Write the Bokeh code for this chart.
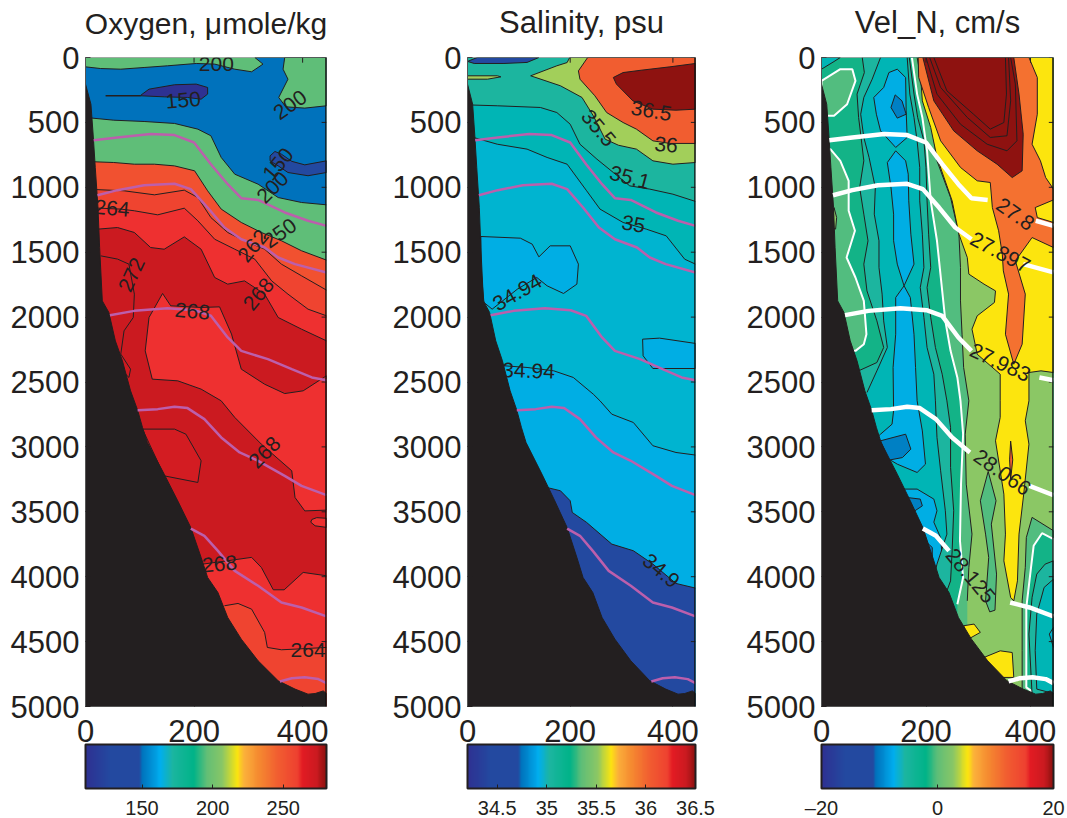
from bokeh.plotting import figure
from bokeh.layouts import row
from bokeh.models import Range1d, FixedTicker, ColorBar, LinearColorMapper, Span, Title
from bokeh.core.properties import value
from bokeh.embed import file_html
from bokeh.resources import INLINE
import numpy as np

FONT = "Liberation Sans"
INK = "#231F20"
XMAX, DMAX = 444, 5000

# ---- section geometry (km, m)
topo_x = [0, 10, 14, 18, 23, 26, 31, 43, 55, 68, 83, 96, 105, 114, 145, 170, 194, 213, 225, 244, 262, 287, 318, 355, 386, 410, 423, 438, 444]
topo_d = [205, 360, 590, 847, 1155, 1464, 1875, 1964, 2183, 2337, 2568, 2717, 2850, 2966, 3210, 3416, 3621, 3852, 4006, 4122, 4314, 4481, 4648, 4802, 4866, 4905, 4900, 4880, 4900]

# ---- isopycnals
iso1_x = [15, 59, 120, 164, 200, 231, 262, 287, 318, 367, 410, 444]
iso1_d = [637, 616, 590, 598, 655, 822, 976, 1084, 1097, 1194, 1258, 1297]
iso2_x = [22, 59, 108, 164, 194, 225, 256, 287, 330, 355, 386, 444]
iso2_d = [1061, 1022, 984, 973, 1014, 1156, 1310, 1400, 1464, 1541, 1592, 1656]
iso3_x = [45, 90, 151, 201, 231, 262, 287, 336, 380, 417, 444]
iso3_d = [1985, 1952, 1931, 1947, 1990, 2157, 2260, 2324, 2401, 2465, 2486]
iso4_x = [96, 133, 164, 188, 219, 250, 284, 318, 367, 398, 444]
iso4_d = [2717, 2709, 2691, 2701, 2786, 2927, 3043, 3107, 3223, 3300, 3372]
iso5_x = [194, 219, 244, 275, 318, 361, 398, 444]
iso5_d = [3629, 3685, 3801, 3955, 4070, 4199, 4237, 4306]
iso6_x = [358, 380, 404, 429, 444]
iso6_d = [4807, 4782, 4774, 4789, 4820]

# ---- oxygen contours
oxy_b1_x = [0, 28, 65, 108, 151, 204, 238, 275, 306, 327, 312, 444]
oxy_b1_d = [72, 85, 90, 77, 64, 46, 51, 90, 110, 51, 0, 0]
oxy_gr_x = [367, 364, 373, 356, 369, 404, 444, 444]
oxy_gr_d = [0, 90, 167, 308, 380, 390, 372, 0]
oxy_db1_x = [102, 117, 164, 204, 225, 225, 213, 188, 145, 102]
oxy_db1_d = [290, 244, 210, 205, 231, 282, 321, 308, 303, 295]
oxy_tail_x = [37, 102]
oxy_tail_d = [295, 295]
oxy_db2_x = [340, 349, 361, 380, 404, 444, 444, 410, 373, 355, 340]
oxy_db2_d = [758, 724, 745, 800, 827, 796, 886, 911, 886, 835, 796]
oxy_g1_x = [0, 52, 108, 164, 207, 231, 250, 275, 318, 355, 398, 444]
oxy_g1_d = [462, 483, 493, 508, 552, 603, 770, 899, 976, 1079, 1117, 1135]
oxy_o1_x = [0, 52, 90, 127, 164, 201, 225, 250, 287, 324, 361, 398, 444]
oxy_o1_d = [801, 809, 822, 822, 835, 873, 1027, 1168, 1271, 1348, 1412, 1489, 1561]
oxy_o2_x = [0, 71, 127, 182, 207, 231, 262, 287, 330, 361, 398, 444]
oxy_o2_d = [1014, 1027, 1058, 1022, 1079, 1233, 1348, 1400, 1477, 1592, 1682, 1792]
oxy_o3_x = [0, 65, 90, 133, 182, 207, 238, 275, 312, 343, 373, 410, 444]
oxy_o3_d = [1156, 1168, 1181, 1212, 1161, 1258, 1400, 1477, 1554, 1721, 1823, 1939, 1990]
oxy_r1_x = [0, 59, 90, 120, 145, 182, 213, 238, 262, 293, 330, 355, 398, 444]
oxy_r1_d = [1330, 1310, 1348, 1464, 1477, 1382, 1477, 1695, 1746, 1721, 1823, 2003, 2093, 2183]
oxy_272_x = [28, 59, 80, 90, 88, 71, 65, 83, 80, 74]
oxy_272_d = [1528, 1553, 1592, 1823, 2003, 2106, 2285, 2401, 2465, 2440]
oxy_p1_x = [142, 157, 213, 247, 269, 287, 330, 367, 401, 444, 444, 404, 386, 380, 324, 275, 250, 213, 170, 123, 110, 117]
oxy_p1_d = [1818, 1913, 1926, 1921, 2131, 2401, 2517, 2589, 2568, 2452, 3487, 3493, 3390, 3184, 2979, 2773, 2645, 2555, 2491, 2478, 2260, 2003]
oxy_p2_x = [105, 164, 185, 213, 207, 145]
oxy_p2_d = [2863, 2863, 2902, 3107, 3274, 3223]
oxy_p3_x = [417, 426, 444, 444, 423, 415]
oxy_p3_d = [3559, 3545, 3550, 3620, 3608, 3580]
oxy_r2_x = [216, 262, 306, 324, 346, 366, 401, 444]
oxy_r2_d = [3903, 3877, 3851, 3929, 4101, 4101, 3967, 3993]
oxy_r3_x = [256, 281, 306, 330, 335, 361, 386, 444]
oxy_r3_d = [4224, 4206, 4250, 4429, 4545, 4563, 4558, 4545]
oxy_lab = ["200", "150", "200", "150", "200", "250", "264", "262", "272", "268", "268", "268", "268", "264"]
oxy_lab_x = [241, 180, 377, 355, 345, 358, 49, 309, 85, 197, 319, 330, 247, 410]
oxy_lab_d = [47, 329, 365, 822, 1001, 1353, 1161, 1451, 1674, 1956, 1823, 3043, 3903, 4566]
oxy_lab_a = [0, 5, 35, 50, 45, 35, -5, 50, 65, -5, 50, 45, 5, 0]

# ---- salinity contours
sal_blue_x = [0, 19, 139, 116, 71, 13]
sal_blue_d = [30, 0, 0, 38, 46, 46]
sal_sl_x = [0, 58, 65, 39, 0]
sal_sl_d = [141, 141, 149, 167, 167]
sal_yg_x = [199, 194, 174, 123, 181, 223, 245, 268, 294, 329, 361, 400, 444, 444]
sal_yg_d = [0, 39, 64, 141, 218, 308, 449, 629, 676, 706, 796, 822, 809, 0]
sal_or_x = [234, 216, 219, 248, 271, 303, 329, 361, 394, 444, 444]
sal_or_d = [0, 103, 167, 295, 424, 501, 552, 642, 662, 662, 0]
sal_dr_x = [303, 338, 394, 444, 444, 406, 361, 322, 290, 284]
sal_dr_d = [116, 98, 72, 46, 398, 406, 398, 334, 205, 154]
sal_t1_x = [0, 58, 142, 174, 200, 219, 252, 284, 316, 355, 400, 444]
sal_t1_d = [365, 372, 385, 424, 514, 668, 783, 886, 989, 1014, 1053, 1109]
sal_t2_x = [0, 58, 116, 155, 194, 232, 258, 303, 348, 387, 423, 444]
sal_t2_d = [603, 668, 706, 770, 822, 1027, 1168, 1271, 1322, 1374, 1554, 1592]
sal_c_x = [0, 71, 116, 168, 206, 245, 258, 281, 323, 361, 406, 444]
sal_c_d = [2375, 2375, 2388, 2414, 2465, 2594, 2645, 2748, 2812, 2991, 3043, 3063]
sal_p1_x = [26, 103, 126, 139, 161, 200, 216, 213, 187, 155, 135, 97, 48, 32, 26]
sal_p1_d = [1379, 1392, 1438, 1536, 1451, 1451, 1592, 1746, 1818, 1759, 1695, 1785, 1939, 1887, 1625]
sal_p2_x = [341, 374, 444, 444, 361, 342]
sal_p2_d = [2170, 2162, 2203, 2396, 2396, 2298]
sal_db_x = [0, 155, 181, 200, 204, 232, 281, 323, 361, 406, 444]
sal_db_d = [3300, 3313, 3338, 3415, 3505, 3582, 3749, 3800, 3903, 4052, 4088]
sal_lab = ["36.5", "36", "35.5", "35.1", "35", "34.94", "34.94", "34.9"]
sal_lab_x = [358, 387, 255, 316, 323, 97, 119, 377]
sal_lab_d = [411, 673, 544, 925, 1284, 1811, 2414, 3955]
sal_lab_a = [-10, -5, -50, -15, -10, 30, -2, -40]

# ---- velocity contours
vel_cor_x = [0, 36, 24, 0]
vel_cor_d = [0, 0, 31, 90]
vel_b1_x = [0, 36, 59, 65, 49, 24, 11, 0]
vel_b1_d = [180, 90, 90, 180, 360, 449, 449, 449]
vel_b2_x = [0, 17, 36, 52, 52, 64, 48, 65, 81, 86, 81, 65, 0]
vel_b2_d = [706, 706, 796, 950, 1181, 1335, 1541, 1695, 1875, 2132, 2209, 2260, 2260]
vel_blob_x = [24, 29, 27, 20]
vel_blob_d = [1156, 1233, 1322, 1310]
vel_v1_x = [78, 82, 68, 71, 75, 81, 73, 81, 89, 81, 87, 106, 119, 106, 71]
vel_v1_d = [0, 116, 282, 462, 591, 796, 1002, 1207, 1412, 1592, 1798, 2029, 2234, 2350, 2414]
vel_v2_x = [113, 97, 81, 75, 81, 91, 103, 101, 110, 110, 116, 119, 126, 106, 87]
vel_v2_d = [0, 167, 308, 437, 616, 770, 1002, 1207, 1412, 1618, 1823, 2029, 2234, 2414, 2581]
vel_c1_x = [145, 129, 119, 100, 105, 113, 142, 164, 162, 161]
vel_c1_d = [90, 116, 231, 308, 437, 565, 693, 616, 411, 154]
vel_c2_x = [142, 126, 133, 138, 138, 145, 158, 177, 171, 167, 166, 161]
vel_c2_d = [719, 809, 1002, 1207, 1412, 1592, 1759, 1592, 1361, 1104, 899, 796]
vel_c3_x = [158, 142, 142, 137, 138, 135, 113, 100, 129, 145, 183, 199, 193, 183, 180, 177, 170]
vel_c3_d = [1759, 1849, 2132, 2388, 2722, 2825, 2902, 2950, 3094, 3133, 3197, 3133, 2877, 2645, 2388, 2132, 1849]
vel_c4_x = [156, 183, 215, 221, 215, 228, 231, 215, 190, 156]
vel_c4_d = [3325, 3325, 3402, 3492, 3580, 3700, 3852, 3950, 3950, 3700]
vel_bb1_x = [141, 154, 162, 145, 133]
vel_bb1_d = [288, 334, 437, 467, 385]
vel_bb2_x = [113, 161, 171, 155, 129]
vel_bb2_d = [2953, 2902, 3017, 3082, 3102]
vel_bb3_x = [164, 189, 193, 174]
vel_bb3_d = [3390, 3402, 3454, 3505]
vel_bb4_x = [202, 212, 212, 202]
vel_bb4_d = [3738, 3775, 3852, 3852]
vel_w1_x = [164, 169, 177, 183, 188, 188, 193, 196, 189, 196, 202, 215, 218, 221, 228, 237, 240, 221, 215]
vel_w1_d = [0, 282, 462, 642, 847, 1104, 1361, 1618, 1772, 2003, 2234, 2440, 2645, 2927, 3184, 3492, 3672, 3903, 4006]
vel_w2_x = [168, 177, 184, 196, 200, 202, 205, 209, 202, 209, 218, 231, 240, 247, 247, 253, 250, 247, 240]
vel_w2_d = [0, 282, 462, 642, 847, 1104, 1361, 1618, 1772, 2003, 2234, 2440, 2645, 2851, 3159, 3492, 3801, 4032, 4109]
vel_w3_x = [173, 183, 193, 202, 209, 221, 231, 237, 247, 260, 266, 271, 267, 265, 271, 260]
vel_w3_d = [0, 282, 462, 719, 1104, 1412, 1798, 2029, 2260, 2465, 2645, 2902, 3287, 3723, 4006, 4212]
vel_w4_x = [183, 196, 209, 221, 247, 263, 266, 266, 269, 272, 282, 275, 277, 288, 282, 279]
vel_w4_d = [0, 282, 462, 796, 1079, 1361, 1618, 1875, 2132, 2388, 2645, 2902, 3287, 3672, 3929, 4186]
vel_lens_x = [319, 334, 325, 335, 332, 322, 314, 320, 314, 304]
vel_lens_d = [3189, 3415, 3595, 3980, 4258, 4271, 4186, 3852, 3672, 3415]
vel_yel_x = [187, 193, 209, 221, 250, 263, 279, 282, 311, 333, 331, 298, 288, 298, 342, 342, 342, 333, 349, 352, 349, 362, 368, 375, 378, 387, 397, 390, 397, 397, 420, 444, 444]
vel_yel_d = [0, 334, 539, 770, 1104, 1361, 1541, 1669, 1746, 1798, 1887, 1990, 2093, 2286, 2440, 2645, 2773, 2953, 3364, 3672, 3878, 4160, 4186, 4032, 3672, 3364, 2979, 2799, 2645, 2427, 2414, 2427, 0]
vel_or_x = [185, 186, 205, 228, 266, 298, 323, 327, 339, 346, 348, 358, 352, 368, 384, 390, 371, 403, 444, 444, 413, 409, 444, 444, 429, 419, 403, 413, 413, 397]
vel_or_d = [0, 154, 385, 642, 847, 950, 963, 1156, 1335, 1515, 1644, 1823, 2132, 2363, 2209, 1823, 1567, 1387, 1464, 1271, 1233, 1156, 1097, 1014, 925, 796, 668, 437, 154, 0]
vel_dr_x = [194, 215, 253, 298, 336, 365, 384, 386, 378, 368]
vel_dr_d = [0, 334, 565, 719, 822, 925, 873, 591, 282, 0]
vel_in1_x = [200, 221, 266, 317, 355, 374, 371, 362]
vel_in1_d = [0, 282, 514, 668, 719, 642, 205, 0]
vel_in2_x = [207, 228, 279, 323, 355, 362, 358]
vel_in2_d = [0, 231, 462, 616, 603, 334, 0]
vel_in3_x = [215, 240, 291, 323, 349, 354, 352]
vel_in3_d = [0, 257, 437, 552, 501, 282, 0]
vel_ra_x = [403, 444, 444, 384, 384, 384, 390, 392]
vel_ra_d = [3543, 3646, 5000, 4905, 4570, 4186, 3929, 3698]
vel_rb_x = [422, 444, 444, 392, 392, 401, 406]
vel_rb_d = [3665, 3711, 5000, 4853, 4237, 3929, 3762]
vel_rc_x = [444, 428, 412, 403, 397, 403, 444]
vel_rc_d = [3878, 3903, 3980, 4160, 4442, 4905, 5000]
vel_rd_x = [444, 426, 412, 409, 412, 444]
vel_rd_d = [4019, 4083, 4288, 4570, 4866, 4900]
vel_re_x = [444, 436, 444]
vel_re_d = [4391, 4442, 4545]
vel_y2_x = [272, 292, 304, 281]
vel_y2_d = [4378, 4365, 4429, 4481]
vel_y3_x = [311, 342, 365, 368, 342, 326]
vel_y3_d = [4622, 4571, 4584, 4776, 4776, 4725]
vel_sl_x = [362, 366, 362, 360]
vel_sl_d = [2955, 3100, 3250, 3100]
vel_lab = ["27.8", "27.897", "27.983", "28.066", "28.125"]
vel_lab_x = [371, 342, 342, 346, 285]
vel_lab_d = [1207, 1502, 2350, 3197, 3993]
vel_lab_a = [-35, -28, -25, -35, -50]
vel_gaps = [(325, 405), (290, 380), (290, 410), (290, 395), (250, 350), (340, 350)]

# ---- colour scale and axes text
cb_fracs = [0, .1, .22, .235, .31, .36, .45, .5, .57, .63, .66, .72, .8, .88, .9, .96, 1]
cb_cols = ["#2E3192", "#2349A0", "#2349A0", "#0072BC", "#00AEEF", "#1CB5A0", "#00B388", "#5FBE78", "#8BC765",
           "#FCE50E", "#FBB03B", "#F58A30", "#F15D30", "#EE4130", "#E31B23", "#CB1A20", "#8E1210"]
titles = ["Oxygen, μmole/kg", "Salinity, psu", "Vel_N, cm/s"]
depth_ticks = [0, 500, 1000, 1500, 2000, 2500, 3000, 3500, 4000, 4500, 5000]
dist_ticks = [0, 200, 400]
oxy_cb = (110, 280.6, {150: "150", 200: "200", 250: "250"})
sal_cb = (34.2, 36.5, {34.5: "34.5", 35: "35", 35.5: "35.5", 36: "36", 36.5: "36.5"})
vel_cb = (-20, 20, {-20: "–20", 0: "0", 20: "20"})


def make_palette():
    rgb = np.array([[int(c[i:i + 2], 16) for i in (1, 3, 5)] for c in cb_cols], float)
    t = np.linspace(0, 1, 256)
    out = np.column_stack([np.interp(t, cb_fracs, rgb[:, k]) for k in range(3)]).round().astype(int)
    return ["#%02X%02X%02X" % tuple(v) for v in out]


PAL = make_palette()


def panel(title, fw, left, right, cb, title_size, cb_standoff):
    fh = 649
    p = figure(width=left + fw + right, height=833, frame_width=fw, frame_height=fh,
               x_range=Range1d(0, XMAX), y_range=Range1d(DMAX, 0),
               output_backend="svg", toolbar_location=None,
               min_border_left=left, min_border_right=right, min_border_top=72, min_border_bottom=112)
    p.title = Title(text=title, text_font=FONT, text_font_size=title_size, text_font_style="normal",
                    text_color=INK, align="center", standoff=35, text_line_height=0.8)
    p.grid.visible = False
    p.outline_line_color = None
    p.background_fill_color = "white"
    for ax, ticks in ((p.xaxis[0], dist_ticks), (p.yaxis[0], depth_ticks)):
        ax.ticker = FixedTicker(ticks=ticks)
        ax.major_tick_in = 5
        ax.major_tick_out = 0
        ax.minor_tick_line_color = None
        ax.major_tick_line_color = INK
        ax.axis_line_color = "#555555"
        ax.major_label_text_font = FONT
        ax.major_label_text_font_size = "31px"
        ax.major_label_text_color = INK
    p.xaxis[0].major_label_standoff = 13
    p.yaxis[0].major_label_standoff = 6
    mapper = LinearColorMapper(palette=PAL, low=cb[0], high=cb[1])
    bar = ColorBar(color_mapper=mapper, ticker=FixedTicker(ticks=list(cb[2].keys())),
                   major_label_overrides=cb[2], orientation="horizontal", width=fw, height=44,
                   padding=0, margin=0, location=(0, 0), label_standoff=cb_standoff,
                   major_label_text_font=FONT, major_label_text_font_size="20px",
                   major_label_text_color=INK, major_tick_line_color=INK, major_tick_in=4,
                   bar_line_color=INK, bar_line_width=2, border_line_color=None, background_fill_alpha=0)
    p.add_layout(bar, "below")
    return p


def closed(p, x, d, color, line=INK, lw=1):
    p.patch(x, d, fill_color=color, line_color=line, line_width=lw)


def below(p, x, d, color, line=INK, lw=1):
    p.patch(list(x) + [XMAX, 0], list(d) + [DMAX, DMAX], fill_color=color, line_color=None)
    p.line(x, d, line_color=line, line_width=lw)


def right_of(p, x, d, color, line=INK, lw=1):
    p.patch(list(x) + [x[-1], XMAX, XMAX], list(d) + [DMAX, DMAX, 0], fill_color=color, line_color=None)
    p.line(x, d, line_color=line, line_width=lw)


def finish(p):
    p.patch(topo_x + [XMAX, 0], topo_d + [DMAX, DMAX], fill_color=INK, line_color=INK, line_width=1)
    # inward tick marks of the right and top sides of the box
    p.segment(x0=[XMAX - 9] * len(depth_ticks), y0=depth_ticks, x1=[XMAX] * len(depth_ticks), y1=depth_ticks,
              line_color=INK, line_width=1)
    p.segment(x0=dist_ticks, y0=[0] * 3, x1=dist_ticks, y1=[40] * 3, line_color=INK, line_width=1)
    p.add_layout(Span(location=XMAX, dimension="height", line_color="#111111", line_width=2.5))
    p.add_layout(Span(location=0, dimension="width", line_color="#666666", line_width=1))


def labels(p, lab, lx, ld, la):
    p.text(lx, ld, text=lab, angle=[np.deg2rad(a) for a in la], text_font=value(FONT), text_font_size="21px",
           text_color=INK, text_align="center", text_baseline="middle")


ISOS = [(iso1_x, iso1_d), (iso2_x, iso2_d), (iso3_x, iso3_d), (iso4_x, iso4_d), (iso5_x, iso5_d), (iso6_x, iso6_d)]
MAG = "#BC5FAC"

# Oxygen
p1 = panel(titles[0], 241, 85, 54, oxy_cb, "30px", 12)
closed(p1, [0, XMAX, XMAX, 0], [0, 0, DMAX, DMAX], "#5FBE78", None)
below(p1, oxy_b1_x, oxy_b1_d, "#0072BC")
closed(p1, oxy_db1_x, oxy_db1_d, "#2E3192")
p1.line(oxy_tail_x, oxy_tail_d, line_color=INK, line_width=1.5)
closed(p1, oxy_db2_x, oxy_db2_d, "#2349A0")
closed(p1, oxy_gr_x, oxy_gr_d, "#5FBE78")
below(p1, oxy_g1_x, oxy_g1_d, "#5FBE78")
below(p1, oxy_o1_x, oxy_o1_d, "#F15130")
below(p1, oxy_o2_x, oxy_o2_d, "#EF4430")
below(p1, oxy_o3_x, oxy_o3_d, "#EE3030")
below(p1, oxy_r1_x, oxy_r1_d, "#CB1A20")
p1.line(oxy_272_x, oxy_272_d, line_color=INK, line_width=1)
closed(p1, oxy_p1_x, oxy_p1_d, "#EE3030")
closed(p1, oxy_p2_x, oxy_p2_d, "#D31C22")
closed(p1, oxy_p3_x, oxy_p3_d, "#EE3030")
below(p1, oxy_r2_x, oxy_r2_d, "#EE3030")
below(p1, oxy_r3_x, oxy_r3_d, "#EF4430")
finish(p1)
for x, d in ISOS:
    p1.line(x, d, line_color=MAG, line_width=2.5)
labels(p1, oxy_lab, oxy_lab_x, oxy_lab_d, oxy_lab_a)

# Salinity
p2 = panel(titles[1], 228, 87, 40, sal_cb, "31px", 12)
closed(p2, [0, XMAX, XMAX, 0], [0, 0, DMAX, DMAX], "#1CB59F", None)
closed(p2, sal_sl_x, sal_sl_d, "#A2CF5A")
below(p2, sal_t1_x, sal_t1_d, "#00B5B5")
below(p2, sal_t2_x, sal_t2_d, "#00B4D0")
below(p2, sal_c_x, sal_c_d, "#00AEE4")
closed(p2, sal_p1_x, sal_p1_d, "#00AEE4")
closed(p2, sal_p2_x, sal_p2_d, "#00AEE4")
below(p2, sal_db_x, sal_db_d, "#2349A0")
closed(p2, sal_blue_x, sal_blue_d, "#2349A0")
closed(p2, sal_yg_x, sal_yg_d, "#A2CF5A")
closed(p2, sal_or_x, sal_or_d, "#F15D30")
closed(p2, sal_dr_x, sal_dr_d, "#8E1210")
finish(p2)
for x, d in ISOS:
    p2.line(x, d, line_color=MAG, line_width=2.5)
labels(p2, sal_lab, sal_lab_x, sal_lab_d, sal_lab_a)

# Velocity
p3 = panel(titles[2], 232, 86, 14, vel_cb, "31px", 8)
closed(p3, [0, XMAX, XMAX, 0], [0, 0, DMAX, DMAX], "#13B387", None)
closed(p3, vel_cor_x, vel_cor_d, "#00B5B5")
closed(p3, vel_b1_x, vel_b1_d, "#52BD7F", "white", 2)
closed(p3, vel_b2_x, vel_b2_d, "#52BD7F", "white", 2)
closed(p3, vel_blob_x, vel_blob_d, "#8BC765")
right_of(p3, vel_v1_x, vel_v1_d, "#1CB59F")
right_of(p3, vel_v2_x, vel_v2_d, "#00B5B5")
closed(p3, vel_c1_x, vel_c1_d, "#00AEE4")
closed(p3, vel_c2_x, vel_c2_d, "#00AEE4")
closed(p3, vel_c3_x, vel_c3_d, "#00AEE4")
closed(p3, vel_c4_x, vel_c4_d, "#00AEE4")
for bx, bd in ((vel_bb1_x, vel_bb1_d), (vel_bb2_x, vel_bb2_d), (vel_bb3_x, vel_bb3_d), (vel_bb4_x, vel_bb4_d)):
    closed(p3, bx, bd, "#0080C4")
right_of(p3, vel_w1_x, vel_w1_d, "#1CB59F")
right_of(p3, vel_w2_x, vel_w2_d, "#13B387")
right_of(p3, vel_w3_x, vel_w3_d, "#52BD7F", "white", 2)
right_of(p3, vel_w4_x, vel_w4_d, "#8BC765")
closed(p3, vel_lens_x, vel_lens_d, "#52BD7F")
closed(p3, vel_yel_x, vel_yel_d, "#FCE50E")
closed(p3, vel_or_x, vel_or_d, "#F47130")
closed(p3, vel_dr_x, vel_dr_d, "#8E1210")
for ix, id_ in ((vel_in1_x, vel_in1_d), (vel_in2_x, vel_in2_d), (vel_in3_x, vel_in3_d)):
    p3.line(ix, id_, line_color=INK, line_width=1)
closed(p3, vel_sl_x, vel_sl_d, "#F15D30")
closed(p3, vel_ra_x, vel_ra_d, "#52BD7F")
closed(p3, vel_rb_x, vel_rb_d, "#13B387", "white", 2)
closed(p3, vel_rc_x, vel_rc_d, "#1CB59F")
closed(p3, vel_rd_x, vel_rd_d, "#00B5B5")
closed(p3, vel_re_x, vel_re_d, "#00B4D0")
closed(p3, vel_y2_x, vel_y2_d, "#FCE50E")
closed(p3, vel_y3_x, vel_y3_d, "#FCE50E")
finish(p3)
for (x, d), (g0, g1) in zip(ISOS, vel_gaps):
    xa = np.array(x, float)
    da = np.array(d, float)
    da[(xa > g0) & (xa < g1)] = np.nan
    p3.line(xa, da, line_color="white", line_width=4.5)
labels(p3, vel_lab, vel_lab_x, vel_lab_d, vel_lab_a)

layout = row(p1, p2, p3, spacing=0, styles={"margin-top": "-15px"})
open("out.html", "w").write(file_html(layout, INLINE))
